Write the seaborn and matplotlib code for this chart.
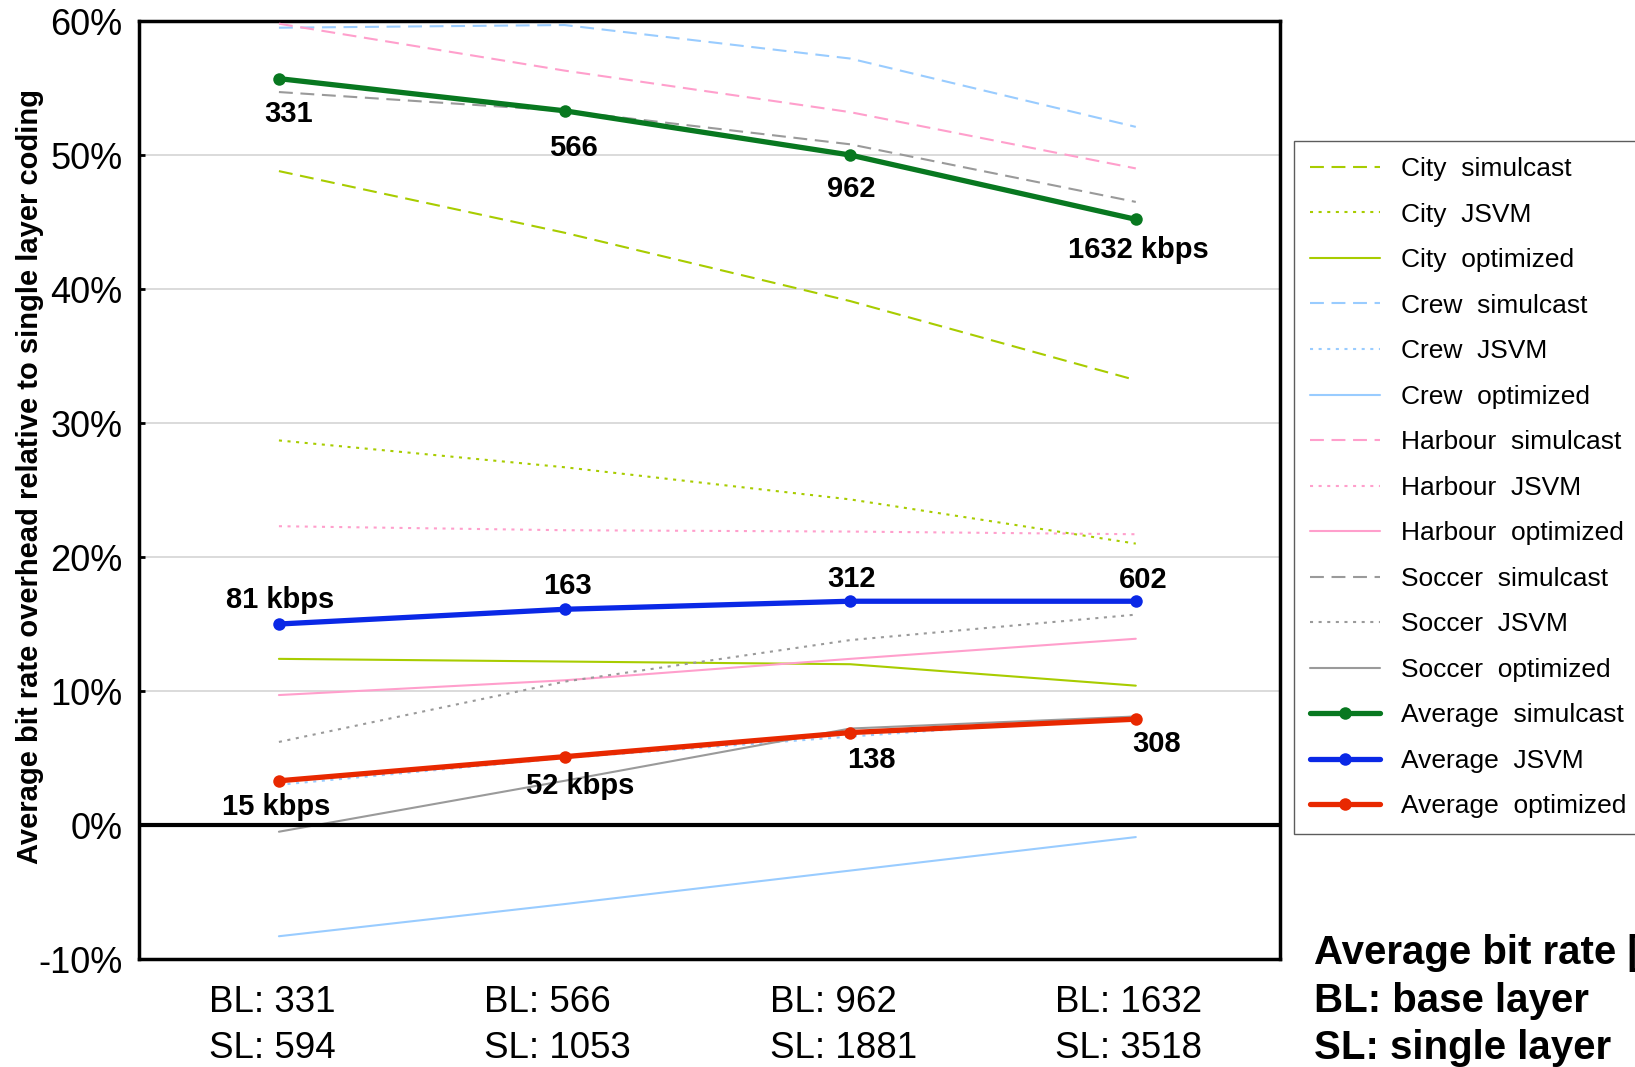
import numpy as np
import matplotlib
matplotlib.use("Agg")
import matplotlib.pyplot as plt
import seaborn as sns

# ---------------- data ----------------
categories = ["BL: 331\nSL: 594", "BL: 566\nSL: 1053", "BL: 962\nSL: 1881", "BL: 1632\nSL: 3518"]

city_simulcast = [48.8, 44.2, 39.1, 33.2]
city_jsvm = [28.7, 26.7, 24.3, 21.0]
city_optimized = [12.4, 12.2, 12.0, 10.4]
crew_simulcast = [59.5, 59.7, 57.2, 52.1]
crew_jsvm = [3.0, 5.0, 6.6, 8.1]
crew_optimized = [-8.3, -5.9, -3.4, -0.9]
harbour_simulcast = [59.8, 56.3, 53.2, 49.0]
harbour_jsvm = [22.3, 22.0, 21.9, 21.7]
harbour_optimized = [9.7, 10.8, 12.4, 13.9]
soccer_simulcast = [54.7, 53.3, 50.8, 46.5]
soccer_jsvm = [6.2, 10.7, 13.8, 15.7]
soccer_optimized = [-0.5, 3.3, 7.2, 8.1]
avg_simulcast = [55.7, 53.3, 50.0, 45.2]
avg_jsvm = [15.0, 16.1, 16.7, 16.7]
avg_optimized = [3.3, 5.1, 6.9, 7.9]

avg_simulcast_labels = ["331", "566", "962", "1632 kbps"]
avg_jsvm_labels = ["81 kbps", "163", "312", "602"]
avg_optimized_labels = ["15 kbps", "52 kbps", "138", "308"]

yticks = [-10, 0, 10, 20, 30, 40, 50, 60]

# ---------------- style ----------------
sns.set_theme(style="white")
plt.rcParams["font.family"] = ["Liberation Sans", "DejaVu Sans"]
plt.rcParams["lines.scale_dashes"] = False
for k in ["text.color", "axes.labelcolor", "xtick.color", "ytick.color"]:
    plt.rcParams[k] = "black"

fig = plt.figure(figsize=(16.35, 10.67), dpi=100)
ax = fig.add_axes([0.0850, 0.1012, 0.6979, 0.8791])

x = np.arange(len(categories))

DASH = (0, (10, 5.5))
DOT = (0, (2.2, 4.0))
SOLID = "-"

c_city = "#a8cc00"
c_crew = "#99ccff"
c_harbour = "#ff9fcc"
c_soccer = "#9a9a9a"

thin = [
    ("City  simulcast", city_simulcast, c_city, DASH),
    ("City  JSVM", city_jsvm, c_city, DOT),
    ("City  optimized", city_optimized, c_city, SOLID),
    ("Crew  simulcast", crew_simulcast, c_crew, DASH),
    ("Crew  JSVM", crew_jsvm, c_crew, DOT),
    ("Crew  optimized", crew_optimized, c_crew, SOLID),
    ("Harbour  simulcast", harbour_simulcast, c_harbour, DASH),
    ("Harbour  JSVM", harbour_jsvm, c_harbour, DOT),
    ("Harbour  optimized", harbour_optimized, c_harbour, SOLID),
    ("Soccer  simulcast", soccer_simulcast, c_soccer, DASH),
    ("Soccer  JSVM", soccer_jsvm, c_soccer, DOT),
    ("Soccer  optimized", soccer_optimized, c_soccer, SOLID),
]

for label, vals, col, ls in thin:
    sns.lineplot(x=x, y=vals, ax=ax, color=col, linestyle=ls, linewidth=1.5,
                 label=label, zorder=3)

avgs = [
    ("Average  simulcast", avg_simulcast, "#087820"),
    ("Average  JSVM", avg_jsvm, "#0a28e6"),
    ("Average  optimized", avg_optimized, "#e82800"),
]
for label, vals, col in avgs:
    sns.lineplot(x=x, y=vals, ax=ax, color=col, linewidth=3.8, marker="o",
                 markersize=9, markeredgewidth=0, label=label, zorder=5)

# annotations
ann_font = dict(fontsize=21, fontweight="bold", color="black", ha="center", va="center")
green_off = [(10, -35), (9, -37), (1, -34), (3, -31)]
blue_off = [(1, 24), (3, 23), (1, 22), (7, 21)]
red_off = [(-3, -26), (16, -29), (21, -27), (21, -25)]
for vals, labels, offs in [(avg_simulcast, avg_simulcast_labels, green_off),
                           (avg_jsvm, avg_jsvm_labels, blue_off),
                           (avg_optimized, avg_optimized_labels, red_off)]:
    for xi, v, lab, off in zip(x, vals, labels, offs):
        ax.annotate(lab, (xi, v), xytext=off, textcoords="offset pixels", zorder=6, **ann_font)

# axes formatting
ax.set_xlim(-0.49, 3.505)
ax.set_ylim(-10, 60)
ax.set_yticks(yticks)
ax.set_yticklabels([f"{t}%" for t in yticks], fontsize=26)
ax.set_xticks(x)
ax.set_xticklabels([])
# category labels (two-line, left-aligned block centred just left of each point)
for xi, cat in zip(x, categories):
    ax.annotate(cat, (xi, 0), xycoords=("data", "axes fraction"),
                xytext=(-7, -26), textcoords="offset pixels",
                ha="center", va="top", multialignment="left",
                fontsize=26.5, linespacing=1.42, annotation_clip=False)
ax.tick_params(axis="y", direction="in", length=4, width=2, color="black", pad=12, left=True)
ax.tick_params(axis="x", length=0)
ax.grid(axis="y", color="#d8d8d8", linewidth=1.3, zorder=0)
ax.grid(axis="x", visible=False)
ax.axhline(0, color="black", linewidth=3, zorder=4)
for s in ax.spines.values():
    s.set_visible(True)
    s.set_color("black")
    s.set_linewidth(2.5)
ax.set_ylabel("Average bit rate overhead relative to single layer coding",
              fontsize=21, fontweight="bold")
ax.yaxis.set_label_coords(-0.083, 0.514)

handles, labels = ax.get_legend_handles_labels()
ax.get_legend().remove()
leg = fig.legend(handles, labels, loc="upper left", bbox_to_anchor=(0.7914, 0.8675),
                 fontsize=19, frameon=True, fancybox=False, edgecolor="#333333",
                 handlelength=2.65, handletextpad=0.8, labelspacing=0.815,
                 borderpad=0.6, borderaxespad=0.0)
leg.get_frame().set_linewidth(1.0)

fig.text(0.8037, 0.1065, "Average bit rate [kbps]", fontsize=29, fontweight="bold", va="center")
fig.text(0.8037, 0.062, "BL: base layer", fontsize=29, fontweight="bold", va="center")
fig.text(0.8037, 0.0175, "SL: single layer", fontsize=29, fontweight="bold", va="center")

fig.savefig("out.png", dpi=100)
